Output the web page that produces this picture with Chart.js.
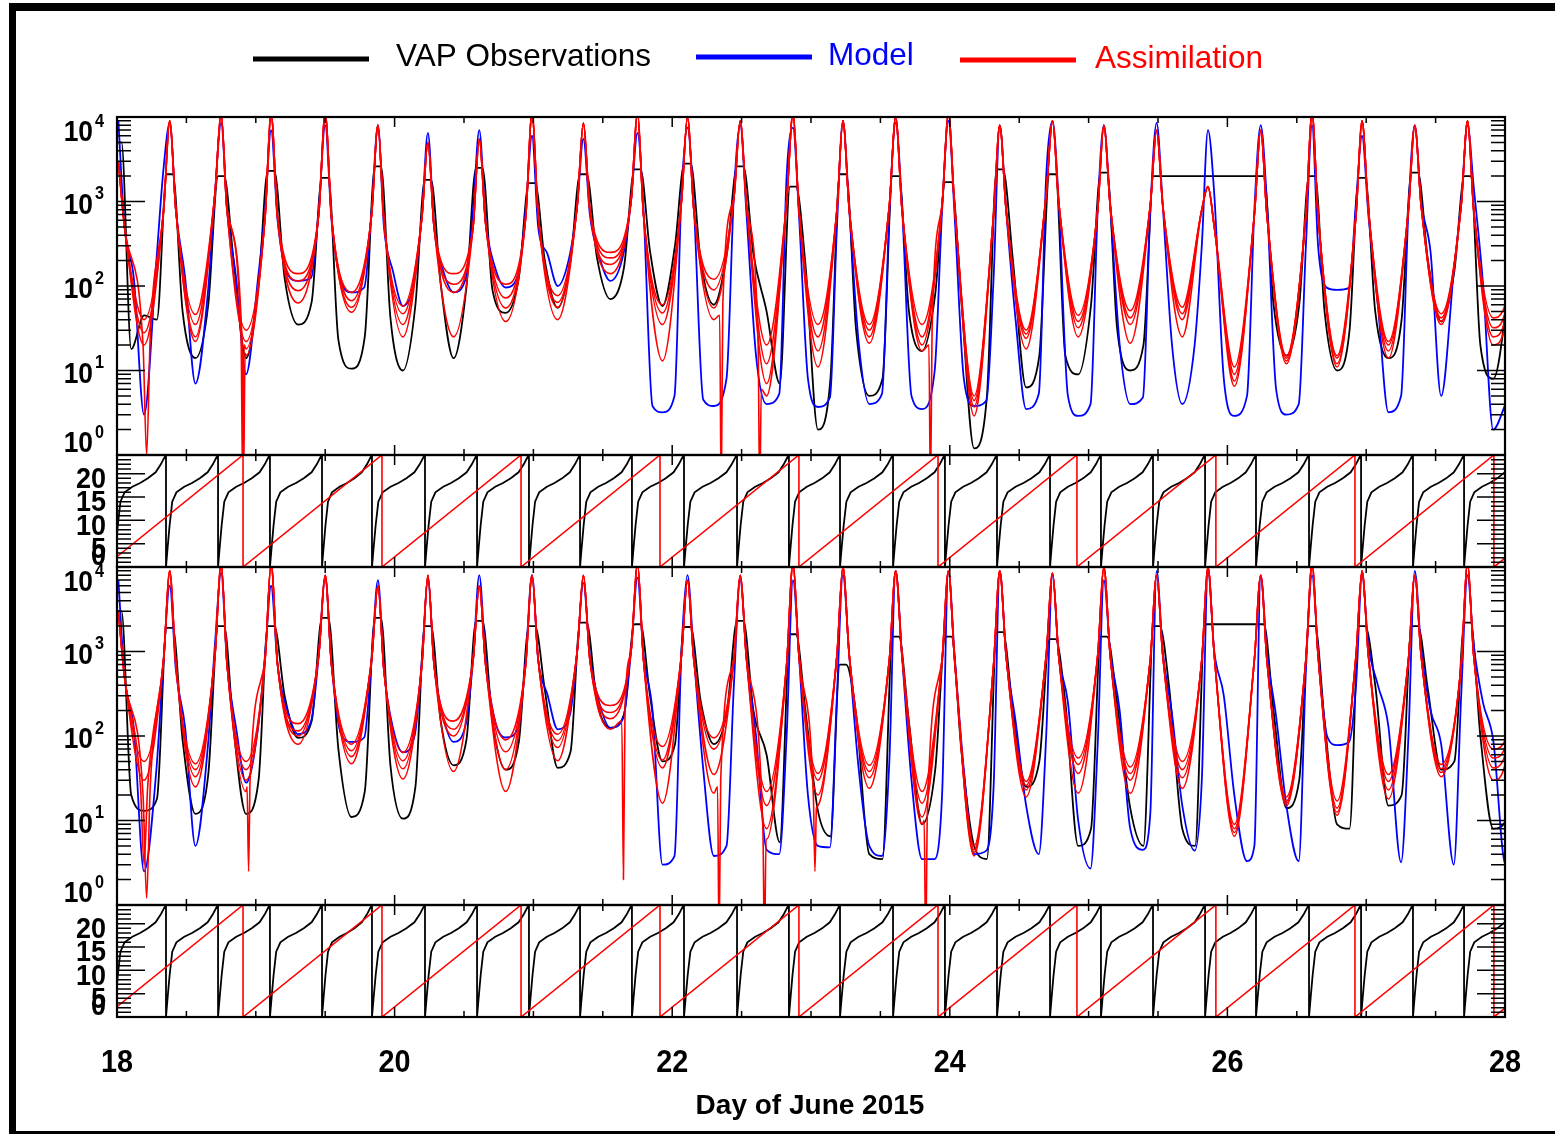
<!DOCTYPE html>
<html>
<head>
<meta charset="utf-8">
<script src="https://cdn.jsdelivr.net/npm/chart.js@4.4.1/dist/chart.umd.min.js"></script>
<style>
  body { margin: 0; background: #fff; }
  #wrap { position: relative; width: 1555px; height: 1134px; background: #fff; }
  #wrap canvas { position: absolute; left: 0; top: 0; }
</style>
</head>
<body>
<div id="wrap">
  <canvas id="fluxTop" width="1555" height="1134"></canvas>
  <canvas id="mltTop" width="1555" height="1134"></canvas>
  <canvas id="fluxLow" width="1555" height="1134"></canvas>
  <canvas id="mltLow" width="1555" height="1134"></canvas>
</div>
<script>
// perigee passes (day of June 2015), last one is just past the end of the plot
const perigee = [18.01, 18.38, 18.75, 19.11, 19.50, 19.88, 20.24, 20.61, 20.99, 21.36,
  21.75, 22.11, 22.49, 22.87, 23.23, 23.61, 23.99, 24.36, 24.74, 25.11,
  25.49, 25.86, 26.24, 26.61, 26.97, 27.35, 27.73, 28.10];

// ---- upper flux panel ----
// VAP observations per orbit: [cap at perigee, after peak, trough, before next peak]
const obsTop = [
  [5000, 18, 45, 40], [2100, 50, 14, 60], [2000, 200, 14, 105], [2300, 125, 35, 65],
  [1900, 23, 10.5, 25], [2600, 42, 10, 60], [1800, 105, 14, 96], [2500, 90, 48, 125],
  [1650, 200, 55, 200], [2100, 220, 70, 165], [2400, 260, 58, 300], [2800, 200, 60, 250],
  [2600, 240, 50, 7], [1500, 180, 2, 8], [2100, 30, 5, 8], [2000, 51, 17, 80],
  [1700, 70, 1.2, 5], [2400, 200, 6.3, 15], [2100, 15, 9, 60], [2200, 32, 10, 20],
  [2000, 2000, 2000, 2000], [2000, 2000, 2000, 2000], [2000, 60, 15, 60], [2000, 50, 10, 30],
  [1900, 50, 14, 40], [2200, 200, 38, 150], [2000, 20, 8, 60]
];
const obsTopEnd = 2000;
// model per orbit: [peak, after peak, trough start, trough middle, trough end, before next peak]
const modelTop = [
  [9000, 500, 125, 3, 200, 2500], [8500, 780, 125, 7, 80, 1230], [8500, 780, 125, 9, 125, 780],
  [7000, 600, 140, 115, 125, 780], [8000, 600, 115, 84, 96, 780], [8000, 500, 150, 58, 125, 700],
  [6500, 500, 150, 84, 125, 800], [7000, 600, 165, 96, 140, 800], [6000, 500, 240, 100, 240, 900],
  [5500, 700, 215, 115, 240, 1000], [6500, 800, 3.8, 3.2, 5, 1200], [7500, 900, 4.5, 3.8, 8, 1200],
  [8000, 700, 15, 4, 5.3, 2000], [7500, 700, 8, 3.7, 4.8, 500], [9000, 800, 21, 4, 5.3, 700],
  [8500, 900, 5, 3.5, 10, 780], [9000, 700, 8, 3.8, 4.4, 125], [8000, 800, 40, 3.5, 5.3, 2000],
  [9000, 1000, 5, 2.9, 4, 800], [8000, 900, 20, 4, 4.8, 780], [8500, 900, 20, 4, 20, 300],
  [7000, 1200, 8, 2.9, 5, 800], [8000, 1000, 6, 3, 4, 300], [8000, 300, 95, 90, 95, 1000],
  [6000, 700, 60, 3.2, 5, 800], [8000, 1000, 250, 5, 150, 1000], [8000, 1500, 110, 2.0, 4, 10]
];
const modelTopEnd = 8000;
// assimilation per orbit: [peak, after peak, before next peak]
const asmTop = [
  [3000, 500, 780], [9000, 780, 1230], [11000, 780, 650], [11000, 650, 700], [11000, 650, 700],
  [8000, 600, 650], [5000, 500, 500], [5500, 550, 650], [11000, 700, 900], [8500, 800, 1000],
  [11000, 700, 1000], [10000, 800, 1100], [9000, 900, 1000], [11000, 800, 800], [9000, 800, 900],
  [10000, 800, 900], [11000, 900, 700], [8000, 800, 1200], [9000, 1000, 800], [8000, 900, 900],
  [7000, 900, 800], [1500, 500, 700], [7000, 700, 700], [11000, 700, 700], [9000, 800, 800],
  [8000, 900, 900], [9000, 800, 200]
];
// assimilation troughs, one value per ensemble member
const asmTopTrough = [
  [40, 28, 20, 18], [46, 35, 25, 22], [30, 22, 18, 15], [140, 115, 88, 63], [84, 67, 56, 49],
  [58, 47, 35, 25], [140, 105, 84, 25], [105, 72, 55, 38], [77, 64, 56, 40], [250, 215, 180, 140],
  [60, 48, 35, 13], [120, 90, 55, 40], [20, 12, 7, 5], [35, 25, 17, 11], [35, 30, 25, 21],
  [35, 25, 20, 17], [5, 4.4, 3.7, 2.9], [30, 27, 24, 18], [45, 38, 32, 25], [51, 42, 35, 21],
  [56, 47, 40, 25], [11, 9, 7.5, 6.5], [15, 14, 13, 12], [15, 14, 12, 11], [22, 20, 17, 14],
  [47, 42, 38, 35], [42, 32, 25, 20]
];
// drop-outs of single members:
// [orbit, member, fraction of orbit, lowest value, half width, level before, level after]
const asmTopSpikes = [
  [0, 3, 0.55, 1.0, 0.07, 20, 25], [2, 2, 0.43, 0.5, 0.03, 25, 20], [2, 3, 0.45, 0.5, 0.03, 22, 16],
  [11, 3, 0.64, 0.3, 0.03, 45, 60], [12, 3, 0.37, 0.3, 0.03, 20, 6], [15, 3, 0.66, 0.3, 0.03, 20, 30]
];
const asmTopEnd = 8000;

// ---- lower flux panel ----
const obsLow = [
  [3000, 20, 13, 18], [1900, 90, 12, 35], [2000, 120, 12, 30], [2000, 300, 95, 150],
  [2500, 70, 11, 22], [2500, 45, 10.5, 25], [2000, 150, 45, 90], [2300, 150, 40, 85],
  [2000, 350, 42, 65], [2200, 260, 125, 180], [2100, 300, 50, 80], [1950, 260, 80, 200],
  [2300, 200, 60, 5.5], [1600, 200, 13, 6.5], [700, 180, 4, 3.5], [1500, 150, 9, 40],
  [1500, 70, 5, 3.5], [1700, 200, 25, 50], [1400, 250, 5, 8], [1500, 250, 14, 5],
  [2000, 350, 8, 5], [2100, 2100, 2100, 2100], [2100, 200, 14, 30], [2000, 150, 9, 8],
  [2000, 400, 15, 20], [2000, 350, 40, 50], [2200, 100, 8, 10]
];
const obsLowEnd = 2000;
const modelLow = [
  [7000, 500, 125, 2.5, 40, 800], [6000, 600, 125, 5, 73, 1200], [8500, 700, 125, 28, 125, 900],
  [6000, 700, 200, 105, 150, 900], [7500, 700, 105, 85, 96, 800], [7000, 600, 125, 64, 105, 800],
  [7000, 700, 165, 85, 140, 800], [8000, 800, 150, 96, 125, 800], [8000, 800, 310, 120, 180, 1000],
  [6500, 900, 240, 125, 165, 1000], [7500, 900, 200, 3, 3.8, 1000], [8000, 900, 40, 3.8, 5, 400],
  [7000, 900, 100, 4.5, 4, 100], [7000, 900, 20, 5, 4.8, 300], [8000, 900, 40, 5, 3.8, 50],
  [9000, 900, 30, 3.5, 3.5, 20], [9000, 900, 40, 4, 4.4, 25], [9000, 900, 150, 15, 4, 100],
  [8000, 900, 250, 10, 2.7, 80], [7000, 1000, 200, 8, 4.5, 12], [9000, 1000, 180, 15, 4.4, 30],
  [9000, 1000, 300, 20, 3.3, 5], [8000, 1000, 170, 15, 3.3, 600], [8000, 1000, 100, 78, 85, 400],
  [8000, 1200, 400, 130, 3.2, 100], [9000, 1100, 200, 80, 3, 300], [8000, 1200, 250, 90, 3, 5]
];
const modelLowEnd = 8000;
const asmLow = [
  [3000, 500, 800], [9000, 700, 900], [11000, 700, 800], [11000, 700, 900], [8000, 700, 800],
  [6000, 600, 700], [8000, 700, 800], [6000, 700, 700], [8000, 800, 1000], [8000, 800, 1000],
  [11000, 800, 900], [7000, 800, 800], [8000, 800, 700], [11000, 900, 900], [10000, 900, 800],
  [9000, 900, 800], [9000, 800, 700], [9000, 900, 900], [8500, 900, 900], [10000, 900, 800],
  [8000, 900, 800], [10000, 900, 800], [8000, 800, 800], [11000, 900, 900], [9000, 900, 800],
  [8000, 900, 700], [11000, 900, 200]
];
const asmLowTrough = [
  [50, 30, 20, 15], [47, 40, 33, 25], [50, 40, 30, 22], [140, 115, 100, 80], [80, 67, 57, 47],
  [64, 51, 41, 31], [150, 120, 100, 38], [90, 65, 40, 22], [105, 88, 73, 51], [230, 190, 160, 120],
  [75, 52, 42, 16], [95, 70, 35, 21], [22, 15, 8, 6], [36, 30, 20, 15], [45, 38, 32, 24],
  [22, 16, 11, 9], [5, 4.5, 4.2, 3.8], [29, 26, 23, 19], [55, 46, 36, 21], [43, 36, 30, 21],
  [50, 40, 32, 24], [9, 8, 7.2, 6.5], [19, 17, 16, 15], [17, 14, 12.5, 11.5], [35, 29, 23, 18],
  [46, 41, 37, 33], [70, 55, 42, 30]
];
const asmLowSpikes = [
  [0, 2, 0.5, 3, 0.07, 25, 25], [0, 3, 0.55, 1.2, 0.07, 20, 25], [2, 3, 0.55, 2.5, 0.03, 25, 30],
  [9, 3, 0.74, 2, 0.03, 150, 220], [11, 3, 0.6, 0.3, 0.03, 25, 30], [12, 3, 0.46, 0.3, 0.03, 8, 6],
  [13, 3, 0.44, 2.5, 0.03, 18, 14], [15, 3, 0.57, 0.3, 0.03, 10, 12]
];
const asmLowEnd = 9000;

// ---- hour strips ----
// spacecraft local time wraps 24 -> 0 once per orbit
const mltResets = [17.98, 18.353, 18.728, 19.102, 19.477, 19.837, 20.219, 20.594, 20.968,
  21.336, 21.710, 22.085, 22.467, 22.841, 23.209, 23.591, 23.965, 24.340, 24.722,
  25.089, 25.464, 25.839, 26.206, 26.588, 26.963, 27.337, 27.705];
// shape of one orbit: [fraction of orbit, hour]
const mltProfile = [[0, 0], [0.03, 4], [0.07, 9], [0.12, 14], [0.2, 16], [0.35, 17.2],
  [0.5, 18], [0.65, 19], [0.8, 20.3], [0.9, 22], [0.97, 23.5], [1, 24]];
// red ramp wraps once per day
const utResets = [18.908, 19.909, 20.911, 21.912, 22.913, 23.915, 24.916, 25.917, 26.919, 27.92];
const utStart = 2.2, utEnd = 1.9;

const FONT = '"Liberation Sans", Arial, Helvetica, sans-serif';

function obsPoints(rows, endVal) {
  const pts = [];
  rows.forEach((r, k) => {
    const p = perigee[k], w = perigee[k + 1] - p;
    pts.push({x: p - 0.06 * w, y: r[0]}, {x: p + 0.06 * w, y: r[0]},
      {x: p + 0.25 * w, y: r[1]}, {x: p + 0.5 * w, y: r[2]}, {x: p + 0.75 * w, y: r[3]});
  });
  const p = perigee[rows.length];
  pts.push({x: p - 0.02, y: endVal}, {x: p + 0.02, y: endVal});
  return pts;
}

const modelPhase = [0, 0.12, 0.3, 0.5, 0.74, 0.88];
function modelPoints(rows, endVal) {
  const pts = [];
  rows.forEach((r, k) => {
    const p = perigee[k], w = perigee[k + 1] - p;
    modelPhase.forEach((f, i) => pts.push({x: p + f * w, y: r[i]}));
  });
  pts.push({x: perigee[rows.length], y: endVal});
  return pts;
}

function asmPoints(shape, troughs, spikes, m, endVal) {
  const pts = [];
  shape.forEach((s, k) => {
    const p = perigee[k], w = perigee[k + 1] - p;
    let orbit = [{x: p, y: s[0]}, {x: p + 0.12 * w, y: s[1]},
      {x: p + 0.5 * w, y: troughs[k][m]}, {x: p + 0.88 * w, y: s[2]}];
    spikes.filter(sp => sp[0] === k && sp[1] === m).forEach(sp => {
      orbit = orbit.filter(q => Math.abs(q.x - (p + sp[2] * w)) > sp[4] * w * 1.01);
      orbit.push({x: p + (sp[2] - sp[4]) * w, y: sp[5]}, {x: p + sp[2] * w, y: sp[3]},
        {x: p + (sp[2] + sp[4]) * w, y: sp[6]});
    });
    orbit.sort((a, b) => a.x - b.x);
    orbit.forEach(q => pts.push(q));
  });
  pts.push({x: perigee[shape.length], y: endVal});
  return pts;
}

function mltPoints() {
  const pts = [];
  mltResets.forEach((r, k) => {
    const w = k + 1 < mltResets.length ? mltResets[k + 1] - r : r - mltResets[k - 1];
    mltProfile.forEach(([f, v]) => pts.push({x: r + f * w, y: v}));
  });
  return pts;
}

function utPoints() {
  const pts = [{x: 18, y: utStart}];
  utResets.forEach(r => pts.push({x: r, y: 24}, {x: r, y: 0}));
  pts.push({x: 28, y: utEnd});
  return pts;
}

function line(data, color, width, smooth) {
  return {
    data: data, borderColor: color, borderWidth: width, pointRadius: 0, fill: false,
    tension: smooth ? 0.4 : 0, cubicInterpolationMode: smooth ? 'monotone' : 'default'
  };
}

function fluxSets(obs, obsEnd, model, modelEnd, asm, asmTr, asmSp, asmEnd) {
  const sets = [];
  for (let m = 0; m < 4; m++) sets.push(line(asmPoints(asm, asmTr, asmSp, m, asmEnd), '#ff0000', 1.6, true));
  sets.push(line(modelPoints(model, modelEnd), '#0000ff', 1.8, true));
  sets.push(line(obsPoints(obs, obsEnd), '#000000', 1.8, true));
  return sets;
}

function hourSets() {
  return [line(utPoints(), '#ff0000', 1.6, false), line(mltPoints(), '#000000', 1.8, false)];
}

// tick lists
const logMajor = [1, 10, 100, 1000, 10000];
const logMinor = [];
[1, 10, 100, 1000].forEach(d => { for (let i = 2; i <= 9; i++) logMinor.push(i * d); });
const linMajor = [0, 5, 10, 15, 20];
const linMinor = [];
for (let i = 1; i <= 24; i++) if (i % 5) linMinor.push(i);
const dayMajor = [18, 20, 22, 24, 26, 28];
const dayMinor = [];
for (let d = 18.5; d < 28; d += 0.5) if (d % 2) dayMinor.push(d);

// narrow IDL-like lettering
function narrowText(ctx, text, x, y, sx) {
  ctx.save();
  ctx.translate(x, y);
  ctx.scale(sx, 1);
  ctx.fillText(text, 0, 0);
  ctx.restore();
}

// frame, inward ticks and y labels of one panel
const panelFrame = {
  id: 'panelFrame',
  afterDatasetsDraw(chart, args, opts) {
    const {ctx, chartArea: a} = chart;
    const xs = chart.scales.x, ys = chart.scales.y;
    ctx.save();
    ctx.strokeStyle = '#000';
    ctx.fillStyle = '#000';
    ctx.lineWidth = 1.5;
    ctx.beginPath();
    const yTick = (v, len) => {
      const py = ys.getPixelForValue(v);
      ctx.moveTo(a.left, py); ctx.lineTo(a.left + len, py);
      ctx.moveTo(a.right, py); ctx.lineTo(a.right - len, py);
    };
    const xTick = (v, len) => {
      const px = xs.getPixelForValue(v);
      ctx.moveTo(px, a.top); ctx.lineTo(px, a.top + len);
      ctx.moveTo(px, a.bottom); ctx.lineTo(px, a.bottom - len);
    };
    if (opts.log) {
      logMajor.forEach(v => yTick(v, 28));
      logMinor.forEach(v => yTick(v, 14));
    } else {
      linMajor.forEach(v => yTick(v, 28));
      linMinor.forEach(v => yTick(v, 14));
    }
    dayMajor.forEach(v => xTick(v, 10));
    dayMinor.forEach(v => xTick(v, 6));
    ctx.stroke();
    ctx.lineWidth = 2.2;
    ctx.strokeRect(a.left, a.top, a.right - a.left, a.bottom - a.top);

    ctx.textBaseline = 'middle';
    ctx.textAlign = 'right';
    if (opts.log) {
      logMajor.forEach((v, e) => {
        const py = ys.getPixelForValue(v);
        const cy = Math.min(Math.max(py + 4, a.top + 16), a.bottom - 11);
        ctx.font = 'bold 30px ' + FONT;
        narrowText(ctx, '10', 93, cy, 0.88);
        ctx.font = 'bold 18px ' + FONT;
        narrowText(ctx, String(e), 104, cy - 11, 0.9);
      });
    } else {
      ctx.font = 'bold 30px ' + FONT;
      linMajor.forEach(v => {
        const py = ys.getPixelForValue(v);
        narrowText(ctx, String(v), 106, Math.min(py + 6, a.bottom - 10), 0.9);
      });
    }
    ctx.restore();
  }
};

// legend, x labels, title and outer border
const legendItems = [
  {label: 'VAP Observations', color: '#000000', x0: 253, x1: 369, ly: 59, tx: 396, ty: 66},
  {label: 'Model', color: '#0000ff', x0: 696, x1: 812, ly: 57, tx: 828, ty: 65},
  {label: 'Assimilation', color: '#ff0000', x0: 960, x1: 1076, ly: 60, tx: 1095, ty: 68}
];
const pageDecor = {
  id: 'pageDecor',
  afterDraw(chart) {
    const ctx = chart.ctx, xs = chart.scales.x;
    ctx.save();
    ctx.fillStyle = '#000';
    ctx.fillRect(9, 3, 1546, 8);
    ctx.fillRect(9, 3, 7, 1131);
    ctx.fillRect(9, 1131, 1546, 3);

    ctx.lineWidth = 5;
    ctx.font = '31.5px ' + FONT;
    ctx.textAlign = 'left';
    ctx.textBaseline = 'alphabetic';
    legendItems.forEach(it => {
      ctx.strokeStyle = it.color;
      ctx.beginPath();
      ctx.moveTo(it.x0, it.ly); ctx.lineTo(it.x1, it.ly);
      ctx.stroke();
      ctx.fillStyle = it.color;
      ctx.fillText(it.label, it.tx, it.ty);
    });

    ctx.fillStyle = '#000';
    ctx.textAlign = 'center';
    ctx.font = 'bold 32px ' + FONT;
    dayMajor.forEach(d => narrowText(ctx, String(d), xs.getPixelForValue(d), 1072, 0.9));
    ctx.font = 'bold 28px ' + FONT;
    ctx.fillText('Day of June 2015', 810, 1114);
    ctx.restore();
  }
};

function panelChart(id, top, bottom, log, datasets, extra) {
  return new Chart(document.getElementById(id), {
    type: 'line',
    data: {datasets: datasets},
    options: {
      responsive: false,
      animation: false,
      devicePixelRatio: 1,
      layout: {padding: {left: 117, right: 50, top: top, bottom: 1134 - bottom}},
      plugins: {legend: {display: false}, tooltip: {enabled: false}, panelFrame: {log: log}},
      scales: {
        x: {type: 'linear', min: 18, max: 28, display: false},
        y: log ? {type: 'logarithmic', min: 1, max: 10000, display: false}
               : {type: 'linear', min: 0, max: 24, display: false}
      }
    },
    plugins: extra ? [panelFrame, extra] : [panelFrame]
  });
}

panelChart('fluxTop', 117, 455, true,
  fluxSets(obsTop, obsTopEnd, modelTop, modelTopEnd, asmTop, asmTopTrough, asmTopSpikes, asmTopEnd));
panelChart('mltTop', 455, 567, false, hourSets());
panelChart('fluxLow', 567, 905, true,
  fluxSets(obsLow, obsLowEnd, modelLow, modelLowEnd, asmLow, asmLowTrough, asmLowSpikes, asmLowEnd));
panelChart('mltLow', 905, 1017, false, hourSets(), pageDecor);
</script>
</body>
</html>
